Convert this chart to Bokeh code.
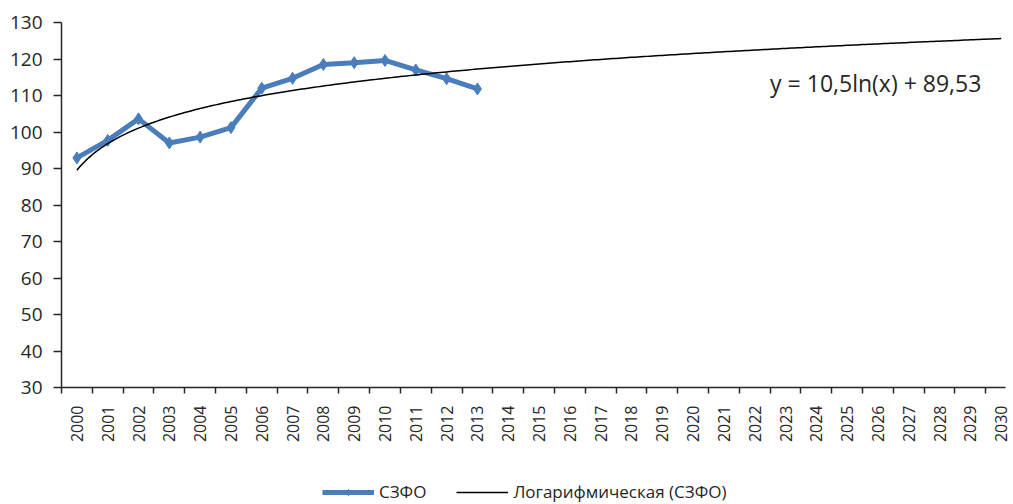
import numpy as np
from bokeh.plotting import figure
from bokeh.layouts import column
from bokeh.models import Range1d, FixedTicker, Legend, LegendItem, Label
from bokeh.embed import file_html
from bokeh.resources import INLINE

# ---- data ----
years = list(range(2000, 2014))
values = [92.9, 97.7, 103.6, 97.0, 98.6, 101.2, 112.0, 114.7, 118.5, 119.0, 119.6, 117.0, 114.6, 111.8]
axis_years = list(range(2000, 2031))
y_ticks = list(range(30, 131, 10))
trend_a = 10.5
trend_b = 89.53
series_name = "СЗФО"
trend_name = "Логарифмическая (СЗФО)"
equation_text = "y = 10,5ln(x) + 89,53"

FONT = "Open Sans"
TXT = "#262626"
BLUE = "#4A7EBB"

# trend line from the equation shown on the chart (x = 1 for 2000)
tx = np.arange(1, len(axis_years) + 0.001, 0.1)
trend_x = tx + axis_years[0] - 1
trend_y = trend_a * np.log(tx) + trend_b

p = figure(width=1013, height=447, min_border_left=61, min_border_top=22,
           min_border_right=8, min_border_bottom=60,
           x_range=Range1d(axis_years[0] - 0.5, axis_years[-1] + 0.14),
           y_range=Range1d(y_ticks[0], y_ticks[-1]),
           output_backend="svg", toolbar_location=None)
p.outline_line_color = None
p.xgrid.visible = False
p.ygrid.visible = False
p.background_fill_color = "white"
p.border_fill_color = "white"

# x axis: labels centered on categories, ticks at boundaries (minor ticks)
xa = p.xaxis[0]
xa.ticker = FixedTicker(ticks=axis_years, minor_ticks=[y - 0.5 for y in axis_years] + [axis_years[-1] + 0.5])
xa.major_tick_out = 0
xa.major_tick_in = 0
xa.minor_tick_out = 6
xa.minor_tick_in = 0
xa.minor_tick_line_color = TXT
xa.minor_tick_line_width = 1.5
xa.axis_line_color = TXT
xa.axis_line_width = 1.5
xa.major_label_orientation = np.pi / 2
xa.major_label_standoff = 12
xa.major_label_text_font = FONT
xa.major_label_text_font_size = "16px"
xa.major_label_text_color = TXT

ya = p.yaxis[0]
ya.ticker = FixedTicker(ticks=y_ticks)
ya.major_tick_out = 8
ya.major_tick_in = 0
ya.minor_tick_out = 0
ya.minor_tick_in = 0
ya.major_tick_line_color = TXT
ya.major_tick_line_width = 1.5
ya.axis_line_color = TXT
ya.axis_line_width = 1.5
ya.major_label_standoff = 11
ya.major_label_text_font = FONT
ya.major_label_text_font_size = "19px"
ya.major_label_text_color = TXT

p.line(years, values, line_color=BLUE, line_width=5)
p.scatter(years, values, marker="diamond", size=12, fill_color=BLUE, line_color=BLUE)
p.line(trend_x, trend_y, line_color="black", line_width=1.5)

eq = Label(x=2022.5, y=113.3, text=equation_text, text_font=FONT, text_font_size="23px",
           text_color=TXT, text_baseline="alphabetic")
p.add_layout(eq)

# legend strip below the chart: same series drawn outside this strip's visible
# range (clipped), only so that the legend keys are rendered
lg = figure(width=1013, height=57, min_border=0, x_range=Range1d(0, 1), y_range=Range1d(0, 1),
            output_backend="svg", toolbar_location=None)
lg.axis.visible = False
lg.xgrid.visible = False
lg.ygrid.visible = False
lg.outline_line_color = None
k1 = lg.line(years, values, line_color=BLUE, line_width=5)
k2 = lg.scatter(years, values, marker="diamond", size=12, fill_color=BLUE, line_color=BLUE)
k3 = lg.line(trend_x, trend_y, line_color="black", line_width=1.5)
legend = Legend(items=[LegendItem(label=series_name, renderers=[k1, k2]),
                       LegendItem(label=trend_name, renderers=[k3])],
                orientation="horizontal", location=(261, 1),
                label_text_font=FONT, label_text_font_size="17px", label_text_color=TXT,
                glyph_width=52, glyph_height=16, label_height=16, label_standoff=5, spacing=30,
                padding=0, margin=0, border_line_color=None, background_fill_alpha=0)
lg.add_layout(legend, "center")

open("out.html", "w").write(file_html(column(p, lg, spacing=0), INLINE))
